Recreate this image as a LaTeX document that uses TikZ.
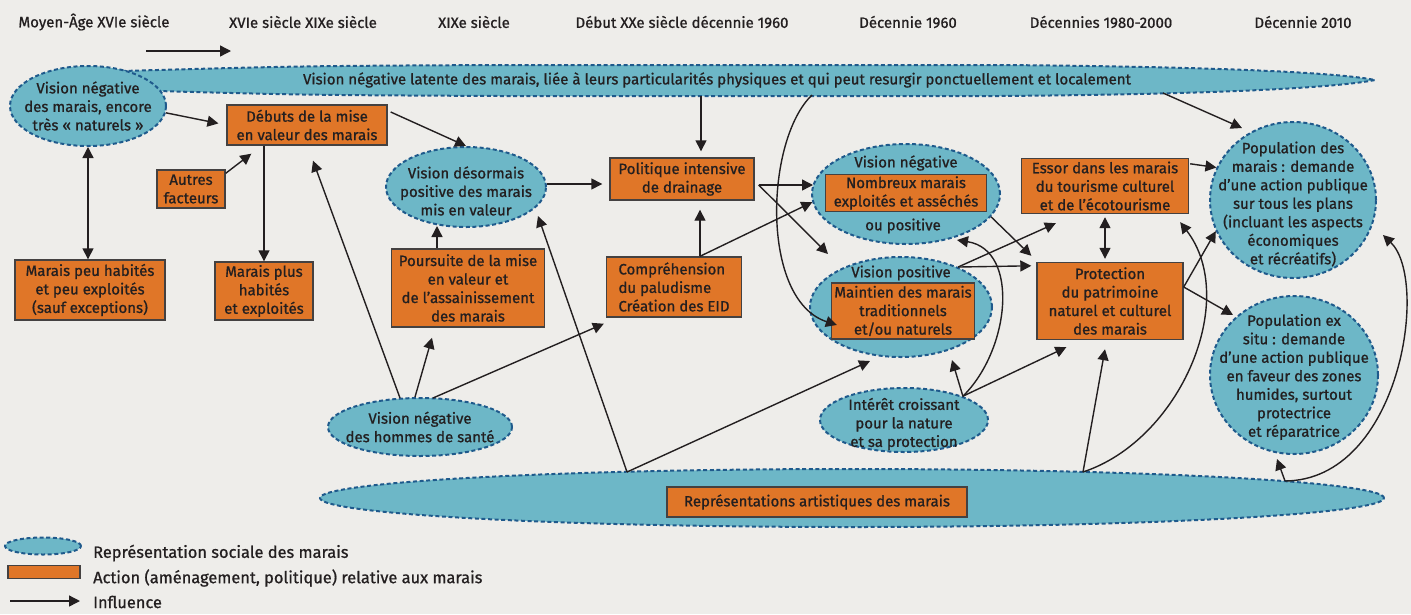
\documentclass[tikz,border=0pt]{standalone}
\usepackage{fontspec}
\setmainfont{Fira Sans}[UprightFeatures={FakeBold=0.9}]
\usetikzlibrary{shapes.geometric,arrows.meta,calc}
\definecolor{bg}{HTML}{EEEDEA}
\definecolor{tealf}{HTML}{6DB7C7}
\definecolor{dashc}{HTML}{1F5A8C}
\definecolor{orng}{HTML}{E07628}
\definecolor{ink}{HTML}{231F20}
\newcommand\nf{\fontsize{15}{18.5}\selectfont}
\newcommand\lf{\fontsize{16.4}{20}\selectfont}
\tikzset{
  rep/.style={ellipse, fill=tealf, draw=dashc, line width=2pt, dash pattern=on 4pt off 2.6pt, inner sep=0pt},
  act/.style={rectangle, fill=orng, draw=ink!85, line width=1.4pt, inner sep=0pt, align=center, font=\nf, text=ink},
  infl/.style={-{Triangle[length=11pt,width=11pt]}, line width=1.4pt, draw=ink},
  dinfl/.style={{Triangle[length=11pt,width=11pt]}-{Triangle[length=11pt,width=11pt]}, line width=1.4pt, draw=ink},
  hdr/.style={font=\nf, text=ink, inner sep=0pt},
  lbl/.style={font=\nf, text=ink, inner sep=0pt, align=center},
  leg/.style={font=\lf, text=ink, inner sep=0pt, anchor=west},
}
\begin{document}
\begin{tikzpicture}[x=1pt,y=-1pt]
\useasboundingbox[fill=bg] (0,0) rectangle (1411,614);

% headers
\node[hdr] (h1) at (94,22) {Moyen-Âge XVIe siècle};
\node[hdr] (h2) at (303,22) {XVIe siècle XIXe siècle};
\node[hdr] (h3) at (474,22) {XIXe siècle};
\node[hdr] (h4) at (682,22) {Début XXe siècle décennie 1960};
\node[hdr] (h5) at (908,22) {Décennie 1960};
\node[hdr] (h6) at (1101,22) {Décennies 1980-2000};
\node[hdr] (h7) at (1303,22) {Décennie 2010};
\coordinate (t1) at (146,51);
\coordinate (t2) at (231,51);
\draw[infl] (t1) -- (t2);

% latent band
\path[fill=tealf, draw=dashc, line width=2pt, dash pattern=on 4pt off 2.6pt]
  (122,71) .. controls (300,66) .. (500,65) -- (1000,65)
  .. controls (1250,67) and (1345,74) .. (1375,80)
  .. controls (1345,86) and (1250,94) .. (1000,96) -- (500,96)
  .. controls (300,95) .. (122,90) -- cycle;
\node[lbl] (lat) at (717,80) {Vision négative latente des marais, liée à leurs particularités physiques et qui peut resurgir ponctuellement et localement};
\coordinate (latPol) at (701,96);
\coordinate (latC) at (812,95);
\coordinate (latP) at (1163,93);

% nodes
\node[rep, minimum width=156, minimum height=80] (ln) at (88,106) {};
\node[lbl] (lnT) at (ln.center) {Vision négative\\des marais, encore\\très «~naturels~»};
\node[act, minimum width=160, minimum height=40] (debuts) at (307,125) {Débuts de la mise\\en valeur des marais};
\node[act, minimum width=68, minimum height=38] (autres) at (191,189) {Autres\\facteurs};
\node[act, minimum width=150, minimum height=60] (mpeu) at (90,290) {Marais peu habités\\et peu exploités\\(sauf exceptions)};
\node[act, minimum width=98, minimum height=58] (mplus) at (264,291) {Marais plus\\habités\\et exploités};
\node[rep, minimum width=160, minimum height=80] (vd) at (466,187) {};
\node[lbl] (vdT) at ($(vd.center)+(0,4)$) {Vision désormais\\positive des marais\\mis en valeur};
\node[act, minimum width=144, minimum height=42] (pol) at (682,179) {Politique intensive\\de drainage};
\node[act, minimum width=135, minimum height=60, align=left] (comp) at (674,287) {Compréhension\\du paludisme\\Création des EID};
\node[act, minimum width=153, minimum height=78] (pours) at (468,288) {Poursuite de la mise\\en valeur et\\de l’assainissement\\des marais};
\node[rep, minimum width=184, minimum height=58] (hs) at (420,427) {};
\node[lbl] (hsT) at (hs.center) {Vision négative\\des hommes de santé};

\node[rep, minimum width=188, minimum height=100] (vneg) at (906,194) {};
\node[lbl] (vnegT) at (906,163) {Vision négative};
\node[act, minimum width=161, minimum height=37] (nomb) at (906,193) {Nombreux marais\\exploités et asséchés};
\node[lbl] (vnegO) at (903,226) {ou positive};

\node[rep, minimum width=182, minimum height=100] (vpos) at (901,307) {};
\node[lbl] (vposT) at (901,273) {Vision positive};
\node[act, minimum width=143, minimum height=56] (maint) at (903,311) {Maintien des marais\\traditionnels\\et/ou naturels};

\node[rep, minimum width=168, minimum height=64] (interet) at (904,420) {};
\node[lbl] (interetT) at ($(interet.center)+(0,4)$) {Intérêt croissant\\pour la nature\\et sa protection};
\node[act, minimum width=167, minimum height=55] (essor) at (1105,186) {Essor dans les marais\\du tourisme culturel\\et de l’écotourisme};
\node[act, minimum width=146, minimum height=77] (prot) at (1110,301) {Protection\\du patrimoine\\naturel et culturel\\des marais};
\node[rep, minimum width=166, minimum height=156] (popm) at (1293,200) {};
\node[lbl] (popmT) at ($(popm.center)+(0,4)$) {Population des\\marais : demande\\d’une action publique\\sur tous les plans\\(incluant les aspects\\économiques\\et récréatifs)};
\node[rep, minimum width=168, minimum height=158] (popx) at (1294,375) {};
\node[lbl] (popxT) at ($(popx.center)+(0,2)$) {Population ex\\situ : demande\\d’une action publique\\en faveur des zones\\humides, surtout\\protectrice\\et réparatrice};

\node[rep, minimum width=1064, minimum height=58] (art) at (852,498) {};
\node[act, minimum width=300, minimum height=30] (artb) at (817,502) {Représentations artistiques des marais};

% connector anchors
\coordinate (compTop) at ($(comp.north)+(26,0)$);
\coordinate (polOut) at ($(pol.east)+(4,6)$);
\coordinate (hsA) at ($(hs.north)+(-20,1)$);
\coordinate (hsB) at ($(hs.north)+(-5,0)$);
\coordinate (hsC) at ($(hs.north)+(13,1)$);
\coordinate (artA) at ($(art.center)+(-225,-26)$);
\coordinate (artB) at ($(art.center)+(231,-26)$);
\coordinate (artC) at ($(art.center)+(433,-17)$);
\coordinate (protOut) at ($(prot.east)+(0,-14)$);

% connectors
\draw[dinfl] (ln.south) -- (ln.south |- mpeu.north);
\draw[infl, shorten >=8pt] (ln.-5) -- (debuts.west);
\draw[infl] ($(autres.north east)+(0,4)$) -- ($(debuts.south west)+(25,8)$);
\draw[infl] (debuts.south -| mplus.north) -- (mplus.north);
\draw[infl] ($(debuts.east)+(3,-13)$) -- (vd.north);
\draw[infl] ($(vd.east)+(0,-3)$) -- ($(pol.west)+(-7,5)$);
\draw[infl, shorten >=6pt] (latPol) -- (latPol |- pol.north);
\draw[infl, shorten >=9pt] (compTop) -- (compTop |- pol.south);
\draw[infl] (compTop) -- (vneg.185);
\draw[infl] (polOut) -- ($(vneg.west)+(2,-9)$);
\draw[infl] (polOut) -- ($(vpos.center)+(-73,-53)$);
\draw[infl] (latC) .. controls (765,140) and (760,300) .. ($(maint.west)+(6,14)$);
\draw[infl] (vneg.-15) -- ($(prot.north west)+(-5,-6)$);
\draw[infl] (vpos.35) -- ($(prot.north west)+(-5,4)$);
\draw[infl] (vpos.35) -- ($(essor.south west)+(35,9)$);
\draw[infl] (interet.22) -- ($(vpos.center)+(51,53)$);
\draw[infl] (interet.22) .. controls (1010,350) and (1020,250) .. ($(vneg.center)+(51,46)$);
\draw[infl] (interet.22) -- ($(prot.south west)+(30,7)$);
\draw[dinfl, shorten <=3pt, shorten >=3pt] (essor.south) -- (essor.south |- prot.north);
\draw[infl] ($(essor.north east)+(1,6)$) -- (popm.157);
\draw[infl] (protOut) -- (popm.202);
\draw[infl] (protOut) -- ($(popx.center)+(-61,-60)$);
\draw[infl] (latP) -- ($(popm.center)+(-51,-72)$);
\draw[infl] (hsA) -- ($(debuts.south)+(6,15)$);
\draw[infl] (hsB) -- ($(pours.south)+(-36,10)$);
\draw[infl] (hsC) -- ($(comp.south west)+(-2,6)$);
\draw[infl] ($(pours.north)+(-31,0)$) -- ($(vd.center)+(-29,39)$);
\draw[infl] (artA) -- ($(vd.center)+(72,29)$);
\draw[infl] (artA) -- ($(vpos.center)+(-31,54)$);
\draw[infl] (artB) -- ($(prot.south)+(-5,9)$);
\draw[infl] (artB) .. controls (1180,440) and (1240,300) .. ($(essor.south east)+(-9,8)$);
\draw[infl] (artC) -- ($(popx.south)+(-17,4)$);
\draw[infl] (artC) .. controls (1400,480) and (1430,280) .. ($(popm.center)+(90,35)$);

% legend
\node[rep, minimum width=76, minimum height=17] (legE) at (43,546) {};
\node[act, minimum width=72, minimum height=13] (legR) at (44,572) {};
\coordinate (legA1) at (10,601);
\coordinate (legA2) at (80,601);
\draw[infl] (legA1) -- (legA2);
\node[leg] (legT1) at (93,553) {Représentation sociale des marais};
\node[leg] (legT2) at (93,578) {Action (aménagement, politique) relative aux marais};
\node[leg] (legT3) at (93,602) {Influence};
\end{tikzpicture}
\end{document}
